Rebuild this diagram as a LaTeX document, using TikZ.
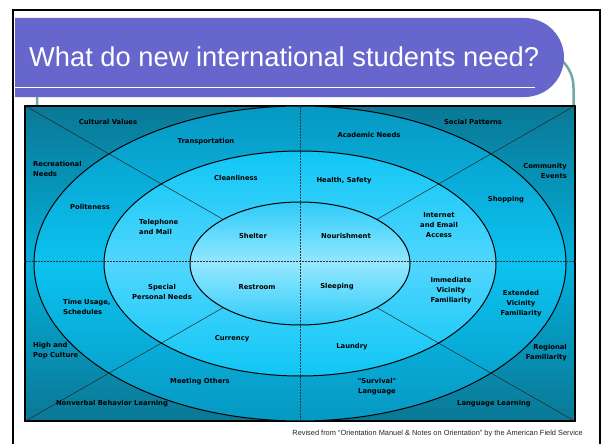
\documentclass[tikz,border=0pt]{standalone}
\usepackage{fontspec}
\setmainfont{Liberation Sans}
\newfontfamily\needfamily{DejaVu Sans}
\usetikzlibrary{shapes.geometric, positioning}
\definecolor{slidepurple}{HTML}{6666CC}
\definecolor{slideteal}{HTML}{6FA8A4}
\definecolor{deepsea}{HTML}{0A7896}
\definecolor{midsea}{HTML}{04B0DC}
\definecolor{outertop}{HTML}{0698C2}
\definecolor{outermid}{HTML}{0CC2F0}
\definecolor{middletop}{HTML}{10C6F4}
\definecolor{middlemid}{HTML}{50D6FE}
\definecolor{innertop}{HTML}{2ECBF8}
\definecolor{innermid}{HTML}{94E8FF}
\tikzstyle{ring} = [ellipse, draw=black, line width=1pt, inner sep=0pt]
\tikzstyle{need} = [font=\needfamily\bfseries\fontsize{6.8}{10}\selectfont, align=center, inner sep=0pt, text=black]
\tikzstyle{needleft} = [need, align=left, anchor=west]
\tikzstyle{needright} = [need, align=right, anchor=east]
\tikzstyle{spoke} = [line width=0.5pt, black!85]
\tikzstyle{axisline} = [densely dotted, line width=0.5pt, black!80]

\begin{document}
\begin{tikzpicture}[x=1pt, y=-1pt]
    \useasboundingbox (0,0) rectangle (602,444);
    \fill[white] (0,0) rectangle (602,444);

    % Slide frame and template lines
    \draw[line width=2pt] (13,460) -- (13,10) -- (600,10) -- (600,460);
    \draw[slideteal, line width=2.5pt, rounded corners=37pt] (37,300) -- (37,50.5) -- (573.5,50.5) -- (573.5,300);
    \fill[slidepurple] (15,18) [rounded corners=39.5pt] -- (564,18) -- (564,97) [sharp corners] -- (15,97) -- cycle;
    \draw[white, line width=1.8pt] (15,87.5) -- (535,87.5);
    \node (title) [anchor=west, text=white, inner sep=0pt, font=\fontsize{27.3}{31}\selectfont] at (29,57) {What do new international students need?};

    % Board and rings
    \node (board) [rectangle, draw=black, line width=1.5pt, minimum width=550pt, minimum height=315pt, top color=deepsea, bottom color=deepsea, middle color=midsea] at (300,263.5) {};
    \node (outerring) [ring, minimum width=532pt, minimum height=315pt, top color=outertop, bottom color=outertop, middle color=outermid] at (300,263.5) {};
    \node (middlering) [ring, minimum width=392pt, minimum height=225pt, top color=middletop, bottom color=middletop, middle color=middlemid] at (300,263.5) {};
    \node (innerring) [ring, minimum width=220pt, minimum height=123pt, top color=innertop, bottom color=innertop, middle color=innermid] at (300,263.5) {};

    % Axes and spokes
    \draw[axisline] (board.north) -- (board.south);
    \draw[axisline] ([yshift=2.5pt]board.west) -- ([yshift=2.5pt]board.east);
    \draw[spoke] (board.north west) -- (innerring);
    \draw[spoke] (board.north east) -- (innerring);
    \draw[spoke] (board.south west) -- (innerring);
    \draw[spoke] (board.south east) -- (innerring);

    % Upper left
    \node (values) [need] at (108,122) {Cultural Values};
    \node (transport) [need] at (206,142) {Transportation};
    \node (recreation) [needleft] at (33,169) {Recreational\\Needs};
    \node (clean) [need] at (236,178) {Cleanliness};
    \node (polite) [need] at (90,207) {Politeness};
    \node (phone) [needleft] at (139,227) {Telephone\\and Mail};
    \node (shelter) [need] at (253,236) {Shelter};

    % Upper right
    \node (social) [need] at (473,122) {Social Patterns};
    \node (academic) [need] at (369,135) {Academic Needs};
    \node (community) [needright] at (567,171) {Community\\Events};
    \node (health) [need] at (344,181) {Health, Safety};
    \node (shopping) [need] at (506,200) {Shopping};
    \node (internet) [need] at (439,225) {Internet\\and Email\\Access};
    \node (food) [need] at (346,236) {Nourishment};

    % Lower left
    \node (special) [need] at (162,292) {Special\\Personal Needs};
    \node (restroom) [need] at (257,287) {Restroom};
    \node (time) [needleft] at (63,307) {Time Usage,\\Schedules};
    \node (currency) [need] at (232,339) {Currency};
    \node (culture) [needleft] at (33,351) {High and\\Pop Culture};
    \node (meeting) [need] at (200,382) {Meeting Others};
    \node (nonverbal) [need] at (112,404) {Nonverbal Behavior Learning};

    % Lower right
    \node (sleep) [need] at (337,287) {Sleeping};
    \node (immediate) [need] at (451,291) {Immediate\\Vicinity\\Familiarity};
    \node (extended) [need] at (521,304) {Extended\\Vicinity\\Familiarity};
    \node (laundry) [need] at (352,347) {Laundry};
    \node (regional) [needright] at (567,353) {Regional\\Familiarity};
    \node (survival) [need] at (377,387) {"Survival"\\Language};
    \node (language) [need] at (494,404) {Language Learning};

    % Source
    \node (source) [anchor=east, inner sep=0pt, text=black!85, font=\fontsize{7.4}{9}\selectfont] at (583,434) {Revised from “Orientation Manuel \& Notes on Orientation” by the American Field Service};
\end{tikzpicture}
\end{document}
